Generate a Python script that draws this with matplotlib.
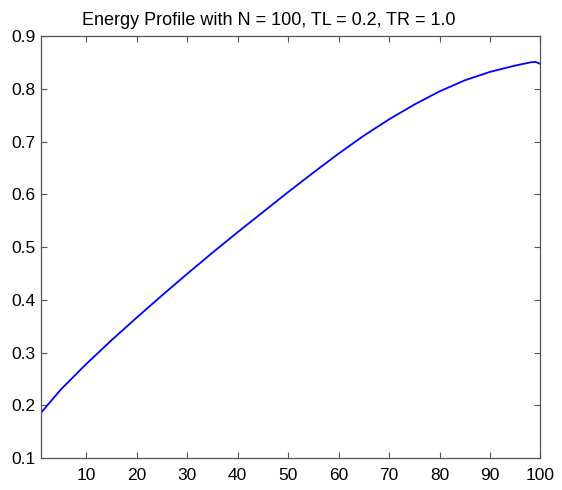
import numpy as np
import matplotlib
matplotlib.use("Agg")
import matplotlib.pyplot as plt

# energy profile
pos = [1, 5, 10, 15, 20, 25, 30, 35, 40, 45, 50, 55, 60, 65, 70, 75, 80, 85, 90, 95, 98, 99, 100]
energy = [0.185, 0.230, 0.278, 0.323, 0.366, 0.408, 0.449, 0.489, 0.528, 0.566, 0.604,
          0.641, 0.677, 0.711, 0.742, 0.770, 0.795, 0.816, 0.832, 0.844, 0.850, 0.851, 0.847]
xticks = [10, 20, 30, 40, 50, 60, 70, 80, 90, 100]
yticks = [0.1, 0.2, 0.3, 0.4, 0.5, 0.6, 0.7, 0.8, 0.9]

plt.rcParams['font.family'] = ['Liberation Sans', 'DejaVu Sans']

fig = plt.figure(figsize=(5.62, 4.90), dpi=100)
ax = fig.add_axes([0.0724, 0.0653, 0.8893, 0.8612])

ax.plot(pos, energy, color='#0000ff', lw=1.3)

ax.set_xlim(1, 100)
ax.set_ylim(0.1, 0.9)
ax.set_xticks(xticks)
ax.set_yticks(yticks)
ax.set_yticklabels(["%.1f" % v for v in yticks])
ax.tick_params(direction='in', top=True, right=True, length=4, width=0.8,
               color='#555555', labelsize=12.5)
ax.tick_params(axis='x', pad=7)
ax.tick_params(axis='y', pad=4)
for s in ax.spines.values():
    s.set_color('#555555')
    s.set_linewidth(0.9)

# title sits a little left of the axes centre in the original
ax.set_title("Energy Profile with N = 100, TL = 0.2, TR = 1.0", fontsize=13, pad=8, x=0.457)

fig.savefig("out.png", dpi=100)
